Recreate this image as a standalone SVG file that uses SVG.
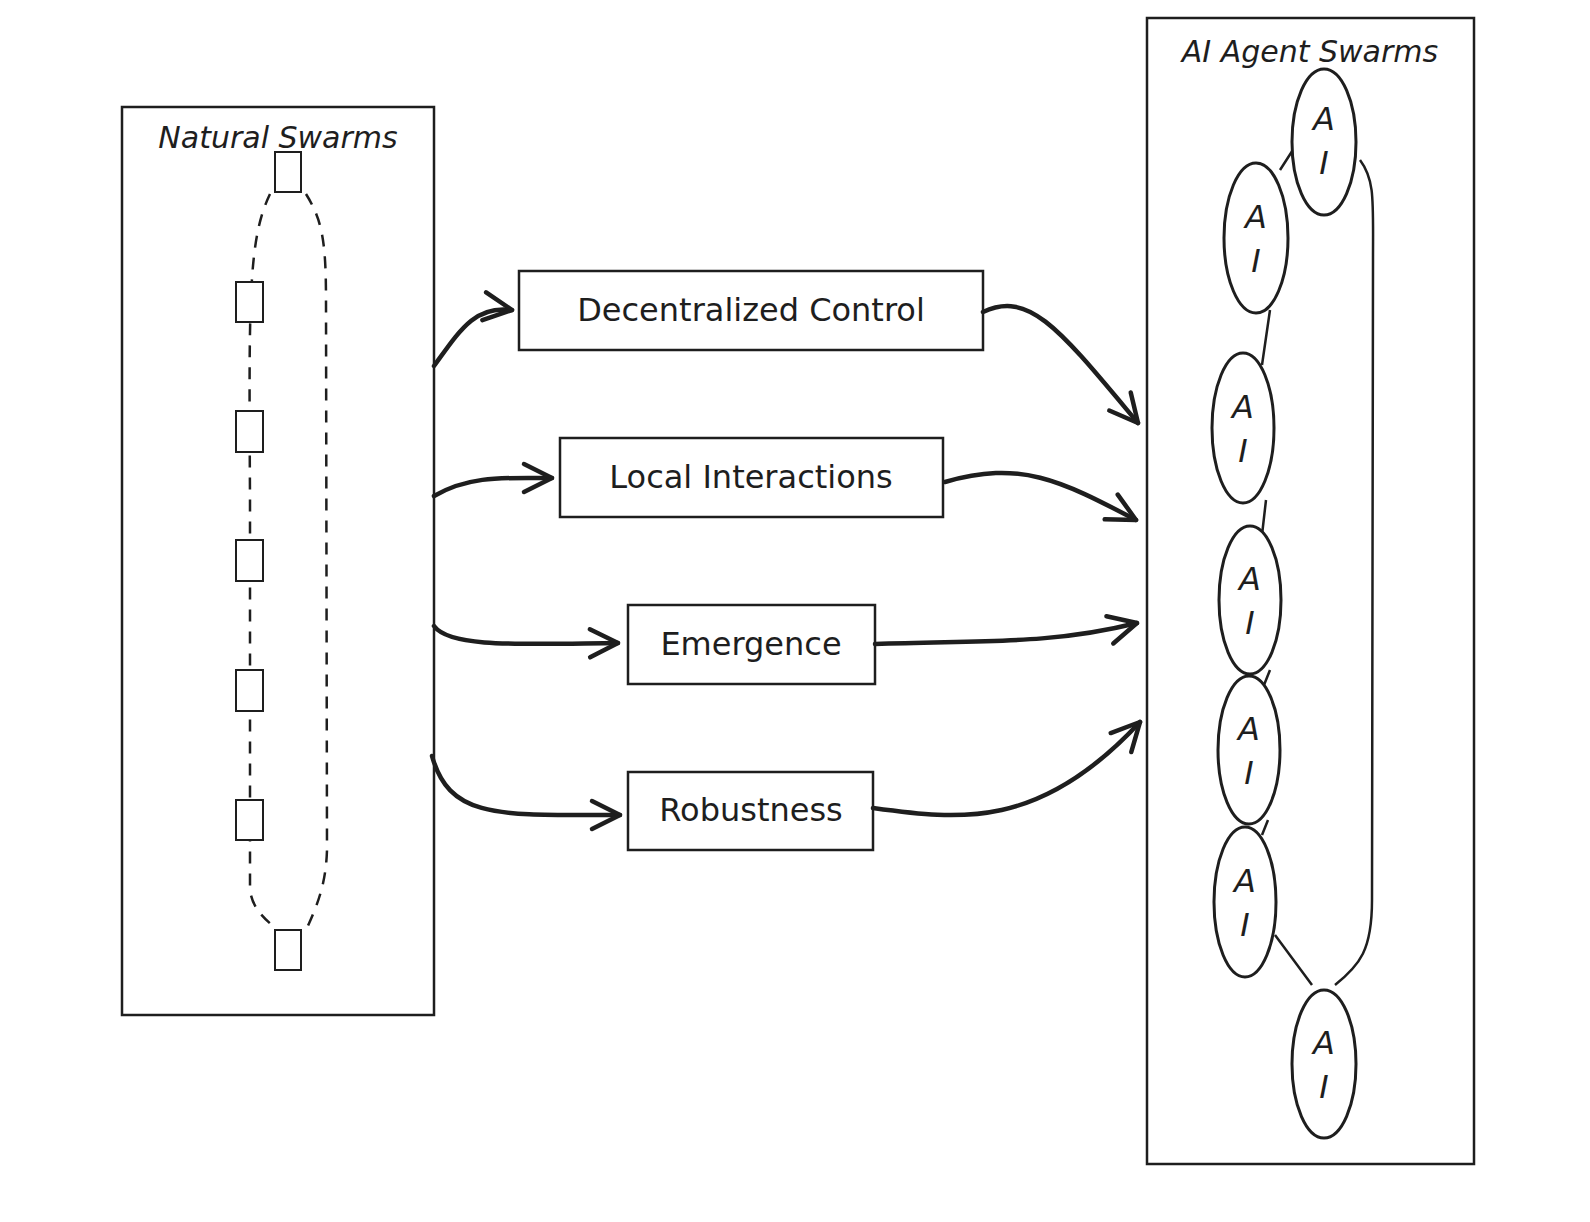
<svg xmlns="http://www.w3.org/2000/svg" width="1590" height="1222" viewBox="0 0 1590 1222">
<defs>
<style>
.box{fill:#fff;stroke:#1e1e1e;stroke-width:2.5}
.sq{fill:#fff;stroke:#1e1e1e;stroke-width:2}
.t{font-family:"DejaVu Sans",sans-serif;fill:#1e1e1e;text-anchor:middle}
.c{fill:none;stroke:#1e1e1e;stroke-width:4.5;stroke-linecap:round}
.l{fill:none;stroke:#1e1e1e;stroke-width:2.5}
.e{fill:#fff;stroke:#1e1e1e;stroke-width:3}
</style>
<marker id="a" viewBox="0 0 20 20" refX="18" refY="10" markerWidth="20" markerHeight="20" orient="auto" markerUnits="userSpaceOnUse" overflow="visible">
<path d="M-10,-4 L18,10 L-10,24" fill="none" stroke="#1e1e1e" stroke-width="4.5" stroke-linecap="round" stroke-linejoin="round"/>
</marker>
</defs>
<rect width="1590" height="1222" fill="#fff"/>
<g id="natural">
<rect class="box" x="122" y="107" width="312" height="908"/>
<text class="t" x="278" y="148" font-size="30" font-style="italic">Natural Swarms</text>
<path d="M270,194 C248,240 249,300 250,500 L250,890 C252,905 260,915 272,925 M306,194 C322,220 326,240 326,300 L327,850 C326,880 320,900 306,930" class="l" stroke-dasharray="12,10" stroke-width="2.2"/>
<rect class="sq" x="275" y="152" width="26" height="40"/>
<rect class="sq" x="236" y="282" width="27" height="40"/>
<rect class="sq" x="236" y="411" width="27" height="41"/>
<rect class="sq" x="236" y="540" width="27" height="41"/>
<rect class="sq" x="236" y="670" width="27" height="41"/>
<rect class="sq" x="236" y="800" width="27" height="40"/>
<rect class="sq" x="275" y="930" width="26" height="40"/>
</g>
<g id="n1"><rect class="box" x="519" y="271" width="464" height="79"/><text class="t" x="751" y="321" font-size="32">Decentralized Control</text></g>
<g id="n2"><rect class="box" x="560" y="438" width="383" height="79"/><text class="t" x="751" y="488" font-size="32">Local Interactions</text></g>
<g id="n3"><rect class="box" x="628" y="605" width="247" height="79"/><text class="t" x="751" y="655" font-size="32">Emergence</text></g>
<g id="n4"><rect class="box" x="628" y="772" width="245" height="78"/><text class="t" x="751" y="821" font-size="32">Robustness</text></g>
<g id="ai">
<rect class="box" x="1147" y="18" width="327" height="1146"/>
<text class="t" x="1310" y="62" font-size="30" font-style="italic">AI Agent Swarms</text>
<path class="l" d="M1307,128 L1280,170 M1270,310 L1262,365 M1266,500 L1262,535 M1360,160 C1375,180 1373,200 1373,260 L1372,900 C1372,950 1360,965 1335,985 M1275,935 L1312,985 M1270,670 L1262,690 M1268,820 L1262,835"/>
<ellipse class="e" cx="1324" cy="142" rx="32" ry="73"/>
<ellipse class="e" cx="1256" cy="238" rx="32" ry="75"/>
<ellipse class="e" cx="1243" cy="428" rx="31" ry="75"/>
<ellipse class="e" cx="1250" cy="600" rx="31" ry="74"/>
<ellipse class="e" cx="1249" cy="750" rx="31" ry="74"/>
<ellipse class="e" cx="1245" cy="902" rx="31" ry="75"/>
<ellipse class="e" cx="1324" cy="1064" rx="32" ry="74"/>
<g class="t" font-size="32" font-style="italic">
<text x="1324" y="130">A</text><text x="1324" y="174">I</text>
<text x="1256" y="228">A</text><text x="1256" y="272">I</text>
<text x="1243" y="418">A</text><text x="1243" y="462">I</text>
<text x="1250" y="590">A</text><text x="1250" y="634">I</text>
<text x="1249" y="740">A</text><text x="1249" y="784">I</text>
<text x="1245" y="892">A</text><text x="1245" y="936">I</text>
<text x="1324" y="1054">A</text><text x="1324" y="1098">I</text>
</g>
</g>
<g id="connectors">
<path class="c" d="M434,366 C460,330 475,305 512,310" marker-end="url(#a)"/>
<path class="c" d="M434,496 C470,475 505,478 552,478" marker-end="url(#a)"/>
<path class="c" d="M434,626 C450,648 520,644 618,643" marker-end="url(#a)"/>
<path class="c" d="M432,756 C450,820 500,815 620,815" marker-end="url(#a)"/>
<path class="c" d="M983,312 C1030,290 1060,330 1138,423" marker-end="url(#a)"/>
<path class="c" d="M945,482 C1020,460 1060,480 1136,520" marker-end="url(#a)"/>
<path class="c" d="M875,644 C980,640 1050,645 1137,623" marker-end="url(#a)"/>
<path class="c" d="M873,808 C960,820 1040,830 1140,722" marker-end="url(#a)"/>
</g>
</svg>
